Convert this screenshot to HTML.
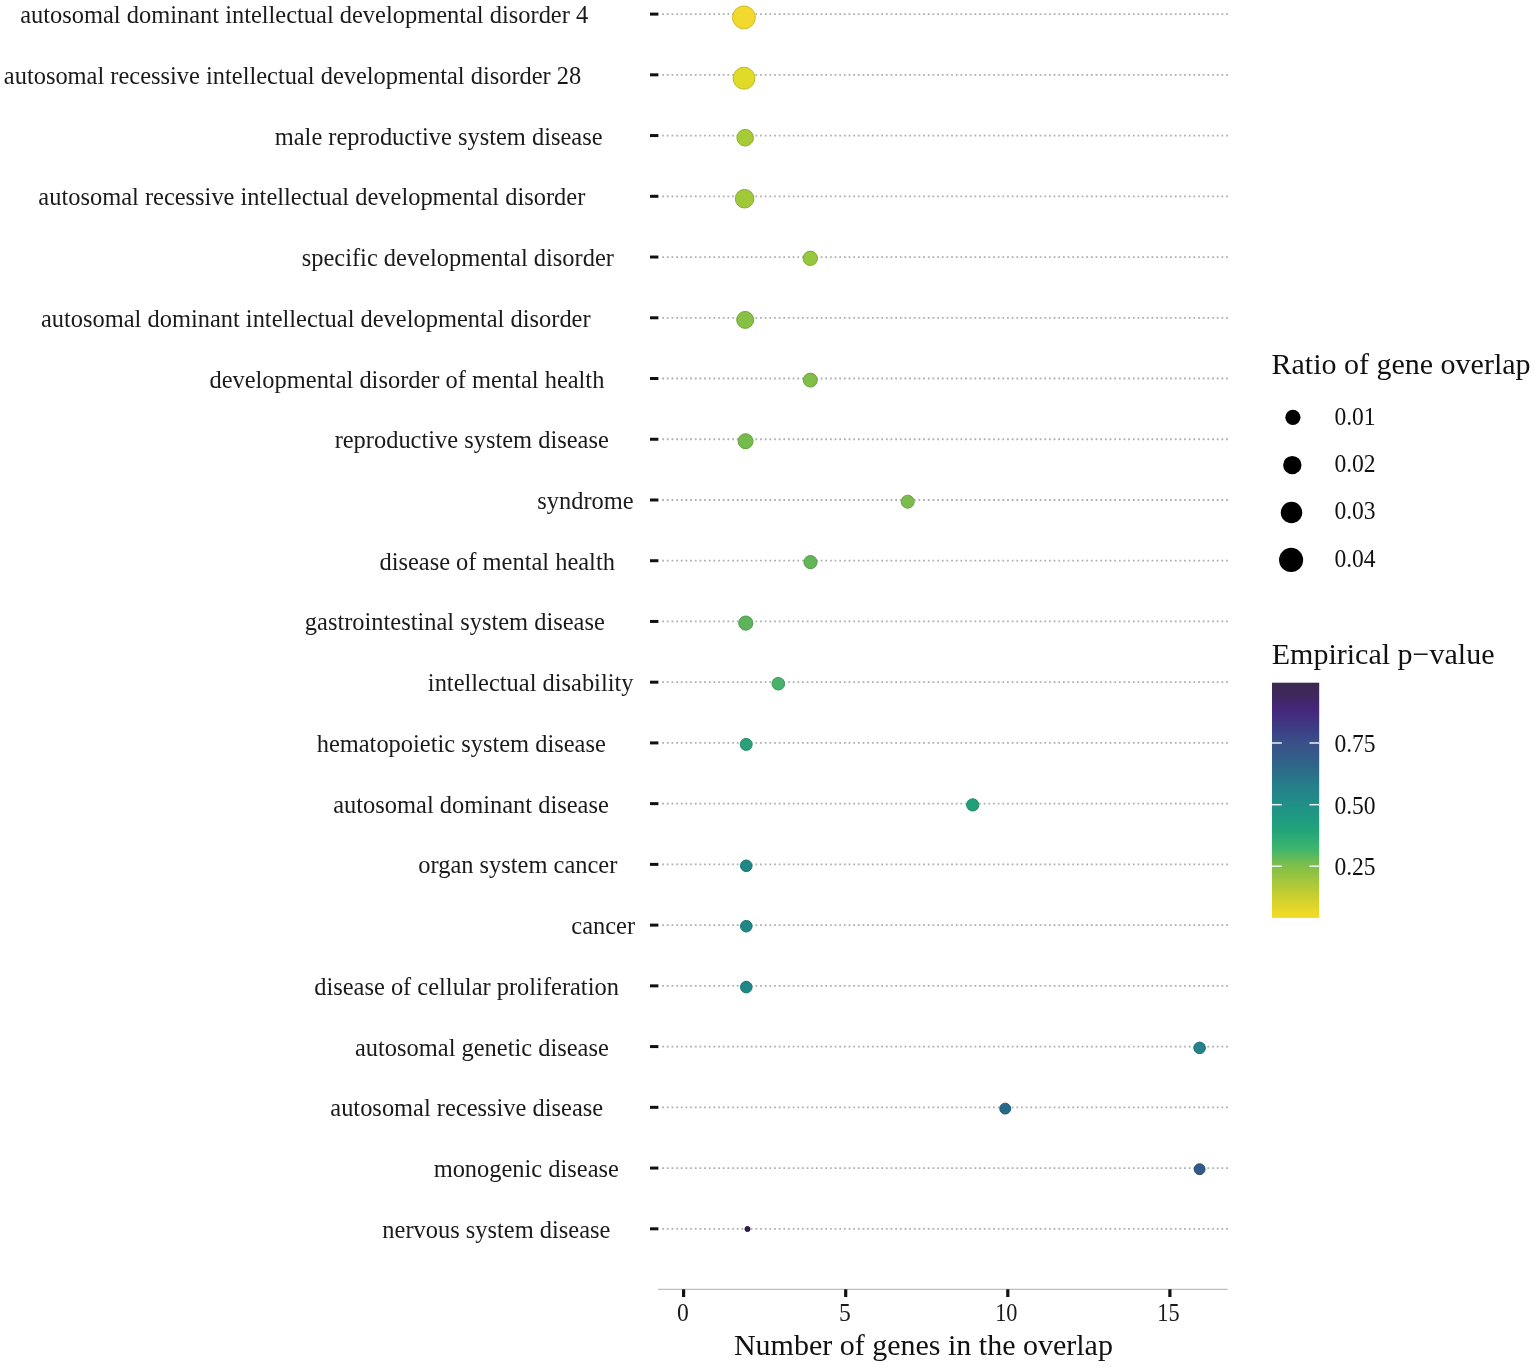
<!DOCTYPE html>
<html><head><meta charset="utf-8"><title>Gene overlap enrichment</title>
<style>
html,body{margin:0;padding:0;background:#fff;}
svg{display:block;}
text{font-family:"Liberation Serif",serif;fill:#1a1a1a;}
.lab{font-size:24.45px;text-anchor:end;}
.tk{font-size:24.2px;}
.ttl{font-size:30px;fill:#111;}
</style></head><body>
<svg width="1535" height="1367" viewBox="0 0 1535 1367">
<defs>
<linearGradient id="vir" x1="0" y1="0" x2="0" y2="1">
<stop offset="0" stop-color="#3A2A50"/>
<stop offset="0.058" stop-color="#40265F"/>
<stop offset="0.12" stop-color="#45277C"/>
<stop offset="0.198" stop-color="#3C3E85"/>
<stop offset="0.253" stop-color="#3A4F88"/>
<stop offset="0.292" stop-color="#365789"/>
<stop offset="0.354" stop-color="#2F6689"/>
<stop offset="0.432" stop-color="#257D8A"/>
<stop offset="0.517" stop-color="#208F87"/>
<stop offset="0.572" stop-color="#1F9A82"/>
<stop offset="0.626" stop-color="#22A37A"/>
<stop offset="0.704" stop-color="#3DB46E"/>
<stop offset="0.778" stop-color="#7FBF4A"/>
<stop offset="0.821" stop-color="#96C440"/>
<stop offset="0.899" stop-color="#C4CE30"/>
<stop offset="0.977" stop-color="#EDD926"/>
<stop offset="1" stop-color="#F2DC26"/>
</linearGradient>
</defs>

<line x1="662.2" y1="14.10" x2="1229" y2="14.10" stroke="#b0b0b0" stroke-width="1.8" stroke-dasharray="1.8 2.86"/>
<line x1="662.2" y1="74.83" x2="1229" y2="74.83" stroke="#b0b0b0" stroke-width="1.8" stroke-dasharray="1.8 2.86"/>
<line x1="662.2" y1="135.57" x2="1229" y2="135.57" stroke="#b0b0b0" stroke-width="1.8" stroke-dasharray="1.8 2.86"/>
<line x1="662.2" y1="196.30" x2="1229" y2="196.30" stroke="#b0b0b0" stroke-width="1.8" stroke-dasharray="1.8 2.86"/>
<line x1="662.2" y1="257.04" x2="1229" y2="257.04" stroke="#b0b0b0" stroke-width="1.8" stroke-dasharray="1.8 2.86"/>
<line x1="662.2" y1="317.78" x2="1229" y2="317.78" stroke="#b0b0b0" stroke-width="1.8" stroke-dasharray="1.8 2.86"/>
<line x1="662.2" y1="378.51" x2="1229" y2="378.51" stroke="#b0b0b0" stroke-width="1.8" stroke-dasharray="1.8 2.86"/>
<line x1="662.2" y1="439.25" x2="1229" y2="439.25" stroke="#b0b0b0" stroke-width="1.8" stroke-dasharray="1.8 2.86"/>
<line x1="662.2" y1="499.98" x2="1229" y2="499.98" stroke="#b0b0b0" stroke-width="1.8" stroke-dasharray="1.8 2.86"/>
<line x1="662.2" y1="560.72" x2="1229" y2="560.72" stroke="#b0b0b0" stroke-width="1.8" stroke-dasharray="1.8 2.86"/>
<line x1="662.2" y1="621.45" x2="1229" y2="621.45" stroke="#b0b0b0" stroke-width="1.8" stroke-dasharray="1.8 2.86"/>
<line x1="662.2" y1="682.19" x2="1229" y2="682.19" stroke="#b0b0b0" stroke-width="1.8" stroke-dasharray="1.8 2.86"/>
<line x1="662.2" y1="742.92" x2="1229" y2="742.92" stroke="#b0b0b0" stroke-width="1.8" stroke-dasharray="1.8 2.86"/>
<line x1="662.2" y1="803.65" x2="1229" y2="803.65" stroke="#b0b0b0" stroke-width="1.8" stroke-dasharray="1.8 2.86"/>
<line x1="662.2" y1="864.39" x2="1229" y2="864.39" stroke="#b0b0b0" stroke-width="1.8" stroke-dasharray="1.8 2.86"/>
<line x1="662.2" y1="925.12" x2="1229" y2="925.12" stroke="#b0b0b0" stroke-width="1.8" stroke-dasharray="1.8 2.86"/>
<line x1="662.2" y1="985.86" x2="1229" y2="985.86" stroke="#b0b0b0" stroke-width="1.8" stroke-dasharray="1.8 2.86"/>
<line x1="662.2" y1="1046.59" x2="1229" y2="1046.59" stroke="#b0b0b0" stroke-width="1.8" stroke-dasharray="1.8 2.86"/>
<line x1="662.2" y1="1107.33" x2="1229" y2="1107.33" stroke="#b0b0b0" stroke-width="1.8" stroke-dasharray="1.8 2.86"/>
<line x1="662.2" y1="1168.06" x2="1229" y2="1168.06" stroke="#b0b0b0" stroke-width="1.8" stroke-dasharray="1.8 2.86"/>
<line x1="662.2" y1="1228.80" x2="1229" y2="1228.80" stroke="#b0b0b0" stroke-width="1.8" stroke-dasharray="1.8 2.86"/>
<line x1="650" y1="14.10" x2="658.4" y2="14.10" stroke="#111" stroke-width="3"/>
<line x1="650" y1="74.83" x2="658.4" y2="74.83" stroke="#111" stroke-width="3"/>
<line x1="650" y1="135.57" x2="658.4" y2="135.57" stroke="#111" stroke-width="3"/>
<line x1="650" y1="196.30" x2="658.4" y2="196.30" stroke="#111" stroke-width="3"/>
<line x1="650" y1="257.04" x2="658.4" y2="257.04" stroke="#111" stroke-width="3"/>
<line x1="650" y1="317.78" x2="658.4" y2="317.78" stroke="#111" stroke-width="3"/>
<line x1="650" y1="378.51" x2="658.4" y2="378.51" stroke="#111" stroke-width="3"/>
<line x1="650" y1="439.25" x2="658.4" y2="439.25" stroke="#111" stroke-width="3"/>
<line x1="650" y1="499.98" x2="658.4" y2="499.98" stroke="#111" stroke-width="3"/>
<line x1="650" y1="560.72" x2="658.4" y2="560.72" stroke="#111" stroke-width="3"/>
<line x1="650" y1="621.45" x2="658.4" y2="621.45" stroke="#111" stroke-width="3"/>
<line x1="650" y1="682.19" x2="658.4" y2="682.19" stroke="#111" stroke-width="3"/>
<line x1="650" y1="742.92" x2="658.4" y2="742.92" stroke="#111" stroke-width="3"/>
<line x1="650" y1="803.65" x2="658.4" y2="803.65" stroke="#111" stroke-width="3"/>
<line x1="650" y1="864.39" x2="658.4" y2="864.39" stroke="#111" stroke-width="3"/>
<line x1="650" y1="925.12" x2="658.4" y2="925.12" stroke="#111" stroke-width="3"/>
<line x1="650" y1="985.86" x2="658.4" y2="985.86" stroke="#111" stroke-width="3"/>
<line x1="650" y1="1046.59" x2="658.4" y2="1046.59" stroke="#111" stroke-width="3"/>
<line x1="650" y1="1107.33" x2="658.4" y2="1107.33" stroke="#111" stroke-width="3"/>
<line x1="650" y1="1168.06" x2="658.4" y2="1168.06" stroke="#111" stroke-width="3"/>
<line x1="650" y1="1228.80" x2="658.4" y2="1228.80" stroke="#111" stroke-width="3"/>
<circle cx="743.9" cy="17.4" r="11.45" fill="#F2D92E" stroke="#CDBC26" stroke-width="1"/>
<circle cx="744.0" cy="78.2" r="10.95" fill="#E0DA28" stroke="#BEBD21" stroke-width="1"/>
<circle cx="745.2" cy="137.7" r="8.30" fill="#A6CB37" stroke="#8DB02D" stroke-width="1"/>
<circle cx="744.6" cy="198.7" r="9.30" fill="#A0C93A" stroke="#88AE30" stroke-width="1"/>
<circle cx="810.3" cy="258.3" r="7.20" fill="#97C73C" stroke="#80AD31" stroke-width="1"/>
<circle cx="745.2" cy="319.9" r="8.50" fill="#86C045" stroke="#71A739" stroke-width="1"/>
<circle cx="810.3" cy="380.1" r="7.00" fill="#80BE48" stroke="#6CA53B" stroke-width="1"/>
<circle cx="745.6" cy="441.2" r="7.50" fill="#75BB4B" stroke="#63A23E" stroke-width="1"/>
<circle cx="907.7" cy="501.7" r="6.50" fill="#7ABD4E" stroke="#67A440" stroke-width="1"/>
<circle cx="810.5" cy="562.1" r="6.60" fill="#63B658" stroke="#549E49" stroke-width="1"/>
<circle cx="745.8" cy="623.1" r="7.10" fill="#5CB35C" stroke="#4E9B4C" stroke-width="1"/>
<circle cx="778.3" cy="683.7" r="6.30" fill="#48B26C" stroke="#3D9A59" stroke-width="1"/>
<circle cx="746.2" cy="744.4" r="6.00" fill="#2AA079" stroke="#238B64" stroke-width="1"/>
<circle cx="972.7" cy="804.9" r="6.10" fill="#219F78" stroke="#1C8A63" stroke-width="1"/>
<circle cx="746.3" cy="865.8" r="5.80" fill="#1F8886" stroke="#1A766F" stroke-width="1"/>
<circle cx="746.3" cy="926.2" r="5.80" fill="#1F8886" stroke="#1A766F" stroke-width="1"/>
<circle cx="746.3" cy="987.1" r="5.80" fill="#1F8886" stroke="#1A766F" stroke-width="1"/>
<circle cx="1199.6" cy="1047.9" r="5.80" fill="#248288" stroke="#1E7170" stroke-width="1"/>
<circle cx="1005.2" cy="1108.6" r="5.45" fill="#27698A" stroke="#215B72" stroke-width="1"/>
<circle cx="1199.6" cy="1169.2" r="5.45" fill="#31598A" stroke="#294D72" stroke-width="1"/>
<circle cx="747.5" cy="1229.0" r="2.55" fill="#33204A" stroke="#2B1B3D" stroke-width="1"/>
<text class="lab" x="588.2" y="23.10">autosomal dominant intellectual developmental disorder 4</text>
<text class="lab" x="581.3" y="83.83">autosomal recessive intellectual developmental disorder 28</text>
<text class="lab" x="602.5" y="144.57">male reproductive system disease</text>
<text class="lab" x="585.3" y="205.30">autosomal recessive intellectual developmental disorder</text>
<text class="lab" x="613.9" y="266.04">specific developmental disorder</text>
<text class="lab" x="590.6" y="326.78">autosomal dominant intellectual developmental disorder</text>
<text class="lab" x="604.4" y="387.51">developmental disorder of mental health</text>
<text class="lab" x="608.8" y="448.25">reproductive system disease</text>
<text class="lab" x="633.7" y="508.98">syndrome</text>
<text class="lab" x="614.9" y="569.72">disease of mental health</text>
<text class="lab" x="604.8" y="630.45">gastrointestinal system disease</text>
<text class="lab" x="633.5" y="691.19">intellectual disability</text>
<text class="lab" x="605.8" y="751.92">hematopoietic system disease</text>
<text class="lab" x="608.8" y="812.65">autosomal dominant disease</text>
<text class="lab" x="617.3" y="873.39">organ system cancer</text>
<text class="lab" x="635.1" y="934.12">cancer</text>
<text class="lab" x="618.9" y="994.86">disease of cellular proliferation</text>
<text class="lab" x="608.8" y="1055.59">autosomal genetic disease</text>
<text class="lab" x="603.1" y="1116.33">autosomal recessive disease</text>
<text class="lab" x="618.9" y="1177.06">monogenic disease</text>
<text class="lab" x="610.4" y="1237.80">nervous system disease</text>
<line x1="658" y1="1289.3" x2="1227.6" y2="1289.3" stroke="#bdbdbd" stroke-width="1.3"/>
<line x1="683.6" y1="1289.3" x2="683.6" y2="1297" stroke="#111" stroke-width="3.2"/>
<text class="tk" x="676.9" y="1321.4" textLength="11.8" lengthAdjust="spacingAndGlyphs">0</text>
<line x1="845.7" y1="1289.3" x2="845.7" y2="1297" stroke="#111" stroke-width="3.2"/>
<text class="tk" x="839.0" y="1321.4" textLength="11.8" lengthAdjust="spacingAndGlyphs">5</text>
<line x1="1007.8" y1="1289.3" x2="1007.8" y2="1297" stroke="#111" stroke-width="3.2"/>
<text class="tk" x="995.2" y="1321.4" textLength="22.3" lengthAdjust="spacingAndGlyphs">10</text>
<line x1="1169.9" y1="1289.3" x2="1169.9" y2="1297" stroke="#111" stroke-width="3.2"/>
<text class="tk" x="1157.3" y="1321.4" textLength="22.3" lengthAdjust="spacingAndGlyphs">15</text>
<text class="ttl" x="733.9" y="1354.8">Number of genes in the overlap</text>
<text class="ttl" x="1271.5" y="373.5">Ratio of gene overlap</text>
<circle cx="1292.9" cy="417.3" r="7.60" fill="#000"/>
<text class="tk" x="1334.4" y="425.1" textLength="41.25" lengthAdjust="spacingAndGlyphs" style="fill:#111">0.01</text>
<circle cx="1292.3" cy="465.1" r="9.20" fill="#000"/>
<text class="tk" x="1334.4" y="472.2" textLength="41.25" lengthAdjust="spacingAndGlyphs" style="fill:#111">0.02</text>
<circle cx="1291.5" cy="512.5" r="10.75" fill="#000"/>
<text class="tk" x="1334.4" y="519.4" textLength="41.25" lengthAdjust="spacingAndGlyphs" style="fill:#111">0.03</text>
<circle cx="1291.1" cy="559.9" r="12.05" fill="#000"/>
<text class="tk" x="1334.4" y="566.7" textLength="41.25" lengthAdjust="spacingAndGlyphs" style="fill:#111">0.04</text>
<text class="ttl" x="1271.8" y="664.0">Empirical p−value</text>
<rect x="1272" y="682.7" width="47.2" height="235.2" fill="url(#vir)"/>
<line x1="1272" y1="743.0" x2="1281.8" y2="743.0" stroke="#eef2f2" stroke-width="1.5"/>
<line x1="1309.4" y1="743.0" x2="1319.2" y2="743.0" stroke="#eef2f2" stroke-width="1.5"/>
<text class="tk" x="1334.4" y="752.3" textLength="41.25" lengthAdjust="spacingAndGlyphs" style="fill:#111">0.75</text>
<line x1="1272" y1="804.7" x2="1281.8" y2="804.7" stroke="#eef2f2" stroke-width="1.5"/>
<line x1="1309.4" y1="804.7" x2="1319.2" y2="804.7" stroke="#eef2f2" stroke-width="1.5"/>
<text class="tk" x="1334.4" y="813.7" textLength="41.25" lengthAdjust="spacingAndGlyphs" style="fill:#111">0.50</text>
<line x1="1272" y1="866.2" x2="1281.8" y2="866.2" stroke="#eef2f2" stroke-width="1.5"/>
<line x1="1309.4" y1="866.2" x2="1319.2" y2="866.2" stroke="#eef2f2" stroke-width="1.5"/>
<text class="tk" x="1334.4" y="875.1" textLength="41.25" lengthAdjust="spacingAndGlyphs" style="fill:#111">0.25</text>
</svg></body></html>
